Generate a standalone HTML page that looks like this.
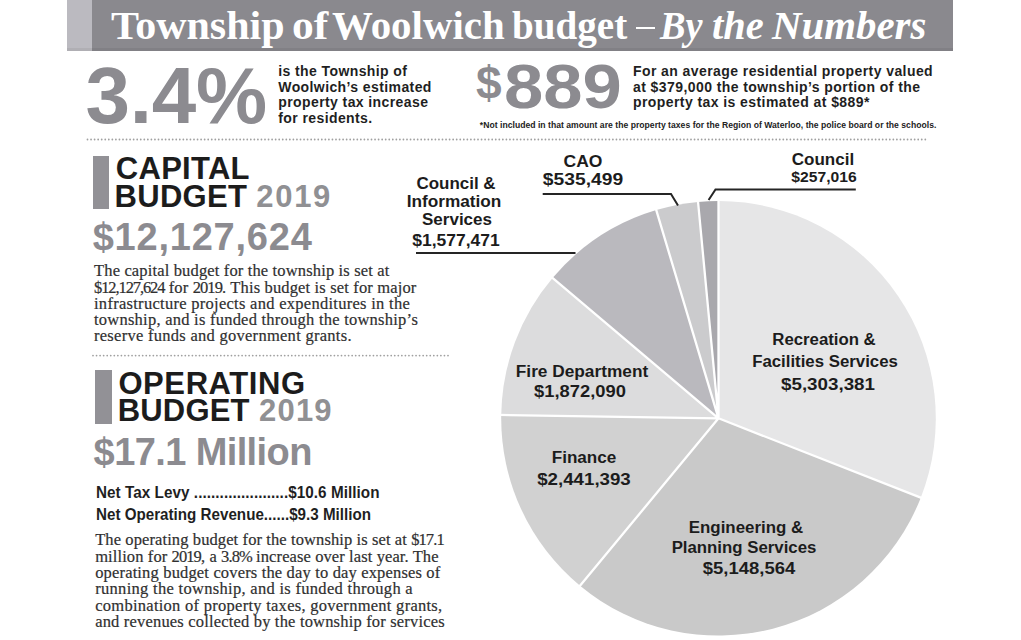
<!DOCTYPE html>
<html><head><meta charset="utf-8">
<style>
html,body{margin:0;padding:0;background:#fff;}
body{width:1021px;height:640px;position:relative;overflow:hidden;font-family:"Liberation Sans",sans-serif;}
.a{position:absolute;white-space:nowrap;}
i{font-style:italic;}
</style></head><body>
<div class="a" style="left:67px;top:0;width:886px;height:51px;background:#8a898e;"></div>
<div class="a" style="left:67px;top:0;width:25px;height:51px;background:#bbbac0;"></div>
<div class="a" style="left:67px;top:48px;width:886px;height:3px;background:rgba(0,0,0,0.06);"></div>
<div class="a" style="left:635.5px;top:26.8px;width:19.5px;height:2.4px;background:#fff;"></div>
<div class="a" style="left:111.0px;top:3.3px;font:bold 39px 'Liberation Serif',serif;color:#fff;transform:scaleX(1.077);transform-origin:0 0;">Township</div>
<div class="a" style="left:291.6px;top:3.3px;font:bold 39px 'Liberation Serif',serif;color:#fff;transform:scaleX(1.116);transform-origin:0 0;">of</div>
<div class="a" style="left:331.5px;top:3.3px;font:bold 39px 'Liberation Serif',serif;color:#fff;transform:scaleX(1.049);transform-origin:0 0;">Woolwich</div>
<div class="a" style="left:511.7px;top:3.3px;font:bold 39px 'Liberation Serif',serif;color:#fff;transform:scaleX(1.003);transform-origin:0 0;">budget</div>
<div class="a" style="left:660.3px;top:3.3px;font:bold 39px 'Liberation Serif',serif;color:#fff;transform:scaleX(0.982);transform-origin:0 0;"><i>By</i></div>
<div class="a" style="left:712.1px;top:3.3px;font:bold 39px 'Liberation Serif',serif;color:#fff;transform:scaleX(1.0375);transform-origin:0 0;"><i>the</i></div>
<div class="a" style="left:772.0px;top:3.3px;font:bold 39px 'Liberation Serif',serif;color:#fff;transform:scaleX(1.048);transform-origin:0 0;"><i>Numbers</i></div>
<div class="a" style="left:85.5px;top:50.0px;font:bold 80px 'Liberation Sans',sans-serif;color:#8c8b90;letter-spacing:-0.2px;">3.4%</div>
<div class="a" style="left:278.3px;top:63.0px;font:bold 14px 'Liberation Sans',sans-serif;color:#1f1f1f;letter-spacing:0.4px;">is the Township of</div>
<div class="a" style="left:278.3px;top:78.5px;font:bold 14px 'Liberation Sans',sans-serif;color:#1f1f1f;letter-spacing:0.4px;">Woolwich’s estimated</div>
<div class="a" style="left:278.3px;top:94.0px;font:bold 14px 'Liberation Sans',sans-serif;color:#1f1f1f;letter-spacing:0.4px;">property tax increase</div>
<div class="a" style="left:278.3px;top:109.5px;font:bold 14px 'Liberation Sans',sans-serif;color:#1f1f1f;letter-spacing:0.4px;">for residents.</div>
<div class="a" style="left:476.0px;top:54.5px;font:bold 47px 'Liberation Sans',sans-serif;color:#8c8b90;letter-spacing:0px;transform:scaleX(0.98);transform-origin:0 0;">$</div>
<div class="a" style="left:503.5px;top:50.0px;font:bold 63px 'Liberation Sans',sans-serif;color:#8c8b90;letter-spacing:0px;transform:scaleX(1.12);transform-origin:0 0;">889</div>
<div class="a" style="left:633.0px;top:63.1px;font:bold 14px 'Liberation Sans',sans-serif;color:#1f1f1f;letter-spacing:0.42px;">For an average residential property valued</div>
<div class="a" style="left:633.0px;top:78.5px;font:bold 14px 'Liberation Sans',sans-serif;color:#1f1f1f;letter-spacing:0.42px;">at $379,000 the township’s portion of the</div>
<div class="a" style="left:633.0px;top:93.9px;font:bold 14px 'Liberation Sans',sans-serif;color:#1f1f1f;letter-spacing:0.42px;">property tax is estimated at $889*</div>
<div class="a" style="left:479.8px;top:119.7px;font:bold 8.6px 'Liberation Sans',sans-serif;color:#222;letter-spacing:0.025px;">*Not included in that amount are the property taxes for the Region of Waterloo, the police board or the schools.</div>
<svg class="a" style="left:0;top:0" width="1021" height="640"><line x1="87.5" y1="139.5" x2="928.8" y2="139.5" stroke="#a0a0a0" stroke-width="1.8" stroke-dasharray="0 3.55" stroke-linecap="round"/></svg>
<svg class="a" style="left:0;top:0" width="1021" height="640"><line x1="93" y1="355.6" x2="448.0" y2="355.6" stroke="#a0a0a0" stroke-width="1.8" stroke-dasharray="0 3.55" stroke-linecap="round"/></svg>
<div class="a" style="left:92.6px;top:155.6px;width:16.7px;height:53.3px;background:#929196;"></div>
<div class="a" style="left:115.8px;top:151.4px;font:bold 31px 'Liberation Sans',sans-serif;color:#1c1c1c;letter-spacing:0.28px;">CAPITAL</div>
<div class="a" style="left:114.6px;top:178.9px;font:bold 31px 'Liberation Sans',sans-serif;color:#1c1c1c;letter-spacing:0.27px;">BUDGET</div>
<div class="a" style="left:256.3px;top:178.9px;font:bold 31px 'Liberation Sans',sans-serif;color:#909093;letter-spacing:1.7px;">2019</div>
<div class="a" style="left:92.7px;top:216.2px;font:bold 38px 'Liberation Sans',sans-serif;color:#8c8b90;letter-spacing:0.78px;">$12,127,624</div>
<div class="a" style="left:94.0px;top:261.4px;font:normal 16.5px 'Liberation Serif',serif;color:#303030;letter-spacing:0.15px;-webkit-text-stroke:0.2px #303030;">The capital budget for the township is set at</div>
<div class="a" style="left:94.0px;top:277.5px;font:normal 16.5px 'Liberation Serif',serif;color:#303030;letter-spacing:0.15px;-webkit-text-stroke:0.2px #303030;"><span style="letter-spacing:-1.1px">$12,127,624</span> for <span style="letter-spacing:-0.9px">2019</span>. This budget is set for major</div>
<div class="a" style="left:94.0px;top:293.7px;font:normal 16.5px 'Liberation Serif',serif;color:#303030;letter-spacing:0.28px;-webkit-text-stroke:0.2px #303030;">infrastructure projects and expenditures in the</div>
<div class="a" style="left:94.0px;top:309.8px;font:normal 16.5px 'Liberation Serif',serif;color:#303030;letter-spacing:0.24px;-webkit-text-stroke:0.2px #303030;">township, and is funded through the township’s</div>
<div class="a" style="left:94.0px;top:326.0px;font:normal 16.5px 'Liberation Serif',serif;color:#303030;letter-spacing:0.275px;-webkit-text-stroke:0.2px #303030;">reserve funds and government grants.</div>
<div class="a" style="left:95.2px;top:370px;width:16.6px;height:53.7px;background:#929196;"></div>
<div class="a" style="left:118.4px;top:366.2px;font:bold 31px 'Liberation Sans',sans-serif;color:#1c1c1c;letter-spacing:0.59px;">OPERATING</div>
<div class="a" style="left:117.8px;top:393.0px;font:bold 31px 'Liberation Sans',sans-serif;color:#1c1c1c;letter-spacing:0.14px;">BUDGET</div>
<div class="a" style="left:259.1px;top:393.0px;font:bold 31px 'Liberation Sans',sans-serif;color:#909093;letter-spacing:1.17px;">2019</div>
<div class="a" style="left:93.6px;top:431.0px;font:bold 38px 'Liberation Sans',sans-serif;color:#8c8b90;letter-spacing:-0.6px;">$17.1 Million</div>
<div class="a" style="left:95.6px;top:483.2px;font:bold 16.5px 'Liberation Sans',sans-serif;color:#1f1f1f;letter-spacing:0.05px;transform:scaleX(0.925);transform-origin:0 0;">Net Tax Levy ......................$10.6 Million</div>
<div class="a" style="left:95.6px;top:505.2px;font:bold 16.5px 'Liberation Sans',sans-serif;color:#1f1f1f;letter-spacing:0px;transform:scaleX(0.92);transform-origin:0 0;">Net Operating Revenue......$9.3 Million</div>
<div class="a" style="left:95.2px;top:530.4px;font:normal 16.5px 'Liberation Serif',serif;color:#303030;letter-spacing:0.1px;-webkit-text-stroke:0.2px #303030;">The operating budget for the township is set at <span style="letter-spacing:-0.9px">$17.1</span></div>
<div class="a" style="left:95.2px;top:546.7px;font:normal 16.5px 'Liberation Serif',serif;color:#303030;letter-spacing:0.1px;-webkit-text-stroke:0.2px #303030;">million for <span style="letter-spacing:-0.9px">2019</span>, a <span style="letter-spacing:-0.9px">3.8%</span> increase over last year. The</div>
<div class="a" style="left:95.2px;top:563.0px;font:normal 16.5px 'Liberation Serif',serif;color:#303030;letter-spacing:0.16px;-webkit-text-stroke:0.2px #303030;">operating budget covers the day to day expenses of</div>
<div class="a" style="left:95.2px;top:579.2px;font:normal 16.5px 'Liberation Serif',serif;color:#303030;letter-spacing:0.3px;-webkit-text-stroke:0.2px #303030;">running the township, and is funded through a</div>
<div class="a" style="left:95.2px;top:595.5px;font:normal 16.5px 'Liberation Serif',serif;color:#303030;letter-spacing:0.27px;-webkit-text-stroke:0.2px #303030;">combination of property taxes, government grants,</div>
<div class="a" style="left:95.2px;top:611.8px;font:normal 16.5px 'Liberation Serif',serif;color:#303030;letter-spacing:0.18px;-webkit-text-stroke:0.2px #303030;">and revenues collected by the township for services</div>
<svg class="a" style="left:0;top:0" width="1021" height="640"><g stroke="none"><path fill="#e6e6e7" d="M718.5 418.3L718.50 201.00A217.3 217.3 0 0 1 920.79 497.66Z"/><path fill="#c9c9c9" d="M718.5 418.3L920.79 497.66A217.3 217.3 0 0 1 580.03 585.77Z"/><path fill="#d1d1d1" d="M718.5 418.3L580.03 585.77A217.3 217.3 0 0 1 501.23 414.97Z"/><path fill="#dcdcdd" d="M718.5 418.3L501.23 414.97A217.3 217.3 0 0 1 552.55 278.02Z"/><path fill="#bab9be" d="M718.5 418.3L552.55 278.02A217.3 217.3 0 0 1 656.24 210.11Z"/><path fill="#cbcbcd" d="M718.5 418.3L656.24 210.11A217.3 217.3 0 0 1 698.05 201.96Z"/><path fill="#a9a8ad" d="M718.5 418.3L698.05 201.96A217.3 217.3 0 0 1 718.50 201.00Z"/></g><path stroke="#fff" stroke-width="2.3" fill="none" stroke-linecap="butt" d="M718.5 418.3L718.50 199.00M718.5 418.3L922.65 498.39M718.5 418.3L578.75 587.31M718.5 418.3L499.23 414.94M718.5 418.3L551.02 276.73M718.5 418.3L655.67 208.19M718.5 418.3L697.86 199.97"/><g stroke="#252525" stroke-width="2" fill="none"><path d="M416 253H575.5"/><path d="M542.7 194.1H671L678 205.5"/><path d="M855.8 189.5H715.5L708.6 200"/></g></svg>
<div class="a" style="left:306.3px;top:175.4px;width:300px;text-align:center;font:bold 16px 'Liberation Sans',sans-serif;color:#1c1c1c;letter-spacing:0px;transform:scaleX(1.06);transform-origin:50% 0;">Council &amp;</div>
<div class="a" style="left:304.1px;top:193.4px;width:300px;text-align:center;font:bold 16px 'Liberation Sans',sans-serif;color:#1c1c1c;letter-spacing:0px;transform:scaleX(1.076);transform-origin:50% 0;">Information</div>
<div class="a" style="left:306.5px;top:210.6px;width:300px;text-align:center;font:bold 16px 'Liberation Sans',sans-serif;color:#1c1c1c;letter-spacing:0px;transform:scaleX(1.062);transform-origin:50% 0;">Services</div>
<div class="a" style="left:306.2px;top:232.2px;width:300px;text-align:center;font:bold 16px 'Liberation Sans',sans-serif;color:#1c1c1c;letter-spacing:0px;transform:scaleX(1.094);transform-origin:50% 0;">$1,577,471</div>
<div class="a" style="left:433.0px;top:153.0px;width:300px;text-align:center;font:bold 16px 'Liberation Sans',sans-serif;color:#1c1c1c;letter-spacing:0px;transform:scaleX(1.094);transform-origin:50% 0;">CAO</div>
<div class="a" style="left:432.5px;top:170.8px;width:300px;text-align:center;font:bold 16px 'Liberation Sans',sans-serif;color:#1c1c1c;letter-spacing:0px;transform:scaleX(1.203);transform-origin:50% 0;">$535,499</div>
<div class="a" style="left:673.3px;top:150.5px;width:300px;text-align:center;font:bold 16px 'Liberation Sans',sans-serif;color:#1c1c1c;letter-spacing:0px;transform:scaleX(1.063);transform-origin:50% 0;">Council</div>
<div class="a" style="left:673.9px;top:168.6px;width:300px;text-align:center;font:bold 14.5px 'Liberation Sans',sans-serif;color:#1c1c1c;letter-spacing:0px;transform:scaleX(1.08);transform-origin:50% 0;">$257,016</div>
<div class="a" style="left:674.2px;top:331.1px;width:300px;text-align:center;font:bold 16px 'Liberation Sans',sans-serif;color:#1c1c1c;letter-spacing:0px;transform:scaleX(1.048);transform-origin:50% 0;">Recreation &amp;</div>
<div class="a" style="left:674.8px;top:353.0px;width:300px;text-align:center;font:bold 16px 'Liberation Sans',sans-serif;color:#1c1c1c;letter-spacing:0px;transform:scaleX(1.05);transform-origin:50% 0;">Facilities Services</div>
<div class="a" style="left:678.1px;top:376.2px;width:300px;text-align:center;font:bold 16px 'Liberation Sans',sans-serif;color:#1c1c1c;letter-spacing:0px;transform:scaleX(1.173);transform-origin:50% 0;">$5,303,381</div>
<div class="a" style="left:432.3px;top:363.0px;width:300px;text-align:center;font:bold 16px 'Liberation Sans',sans-serif;color:#1c1c1c;letter-spacing:0px;transform:scaleX(1.079);transform-origin:50% 0;">Fire Department</div>
<div class="a" style="left:429.9px;top:383.0px;width:300px;text-align:center;font:bold 16px 'Liberation Sans',sans-serif;color:#1c1c1c;letter-spacing:0px;transform:scaleX(1.146);transform-origin:50% 0;">$1,872,090</div>
<div class="a" style="left:434.4px;top:449.0px;width:300px;text-align:center;font:bold 16px 'Liberation Sans',sans-serif;color:#1c1c1c;letter-spacing:0px;transform:scaleX(1.069);transform-origin:50% 0;">Finance</div>
<div class="a" style="left:433.9px;top:470.6px;width:300px;text-align:center;font:bold 16px 'Liberation Sans',sans-serif;color:#1c1c1c;letter-spacing:0px;transform:scaleX(1.168);transform-origin:50% 0;">$2,441,393</div>
<div class="a" style="left:596.0px;top:518.9px;width:300px;text-align:center;font:bold 16px 'Liberation Sans',sans-serif;color:#1c1c1c;letter-spacing:0px;transform:scaleX(1.055);transform-origin:50% 0;">Engineering &amp;</div>
<div class="a" style="left:593.7px;top:539.2px;width:300px;text-align:center;font:bold 16px 'Liberation Sans',sans-serif;color:#1c1c1c;letter-spacing:0px;transform:scaleX(1.05);transform-origin:50% 0;">Planning Services</div>
<div class="a" style="left:598.6px;top:559.8px;width:300px;text-align:center;font:bold 16px 'Liberation Sans',sans-serif;color:#1c1c1c;letter-spacing:0px;transform:scaleX(1.155);transform-origin:50% 0;">$5,148,564</div>
</body></html>
